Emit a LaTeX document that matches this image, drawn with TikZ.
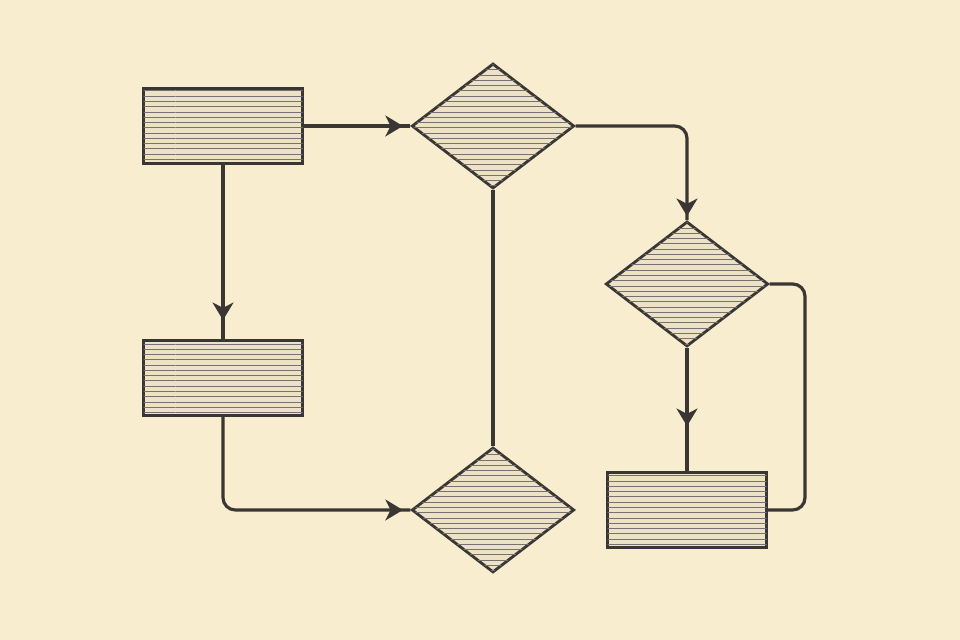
\documentclass[tikz,border=0pt]{standalone}
\usepackage{tikz}
\usetikzlibrary{patterns,shapes.geometric,arrows.meta,decorations.markings}
\definecolor{paper}{HTML}{F8EDCF}
\definecolor{ink}{HTML}{3A3633}
\definecolor{boxfill}{HTML}{EDE2C5}
\tikzset{
  block/.style = {draw = ink, line width = 1.6pt, minimum width = 3.18cm, minimum height = 1.5cm,
    fill = boxfill, postaction = {pattern = horizontal lines, pattern color = ink!70}},
  decision/.style = {diamond, draw = ink, line width = 1.6pt, minimum width = 3.25cm, minimum height = 2.5cm,
    inner sep = 0pt, fill = boxfill, postaction = {pattern = horizontal lines, pattern color = ink!70}},
  wire/.style = {draw = ink, line width = 1.8pt, rounded corners = 7pt},
  flow/.style = {wire, postaction = {decorate}, decoration = {markings,
    mark = at position #1 with {\arrow[ink, line width = 1pt]{Stealth[length = 10pt, width = 12pt, inset = 3pt]}}}}
}
\begin{document}
\begin{tikzpicture} [scale = 1]
\fill[paper] (0.0, 0.0) rectangle (19.2, 12.8);
\useasboundingbox (0.0, 0.0) rectangle (19.2, 12.8);
\node[block] (start) at (4.46, 10.28){};
\node[block] (task) at (4.46, 5.24){};
\node[block] (result) at (13.74, 2.6){};
\node[decision] (test) at (9.86, 10.28){};
\node[decision] (join) at (9.86, 2.6){};
\node[decision] (check) at (13.74, 7.12){};
\coordinate (bendA) at (13.74, 10.28);
\coordinate (bendB) at (4.46, 2.6);
\coordinate (bendC) at (16.1, 7.12);
\coordinate (bendD) at (16.1, 2.6);
\draw[flow = -0.15cm] (start.east) -- (test.west);
\draw[flow = -0.38cm] (start.south) -- (task.north);
\draw[flow = -0.15cm] (task.south) -- (bendB) -- (join.west);
\draw[wire] (test.south) -- (join.north);
\draw[flow = -0.08cm] (test.east) -- (bendA) -- (check.north);
\draw[flow = -0.9cm] (check.south) -- (result.north);
\draw[wire] (check.east) -- (bendC) -- (bendD) -- (result.east);
\end{tikzpicture}
\end{document}
